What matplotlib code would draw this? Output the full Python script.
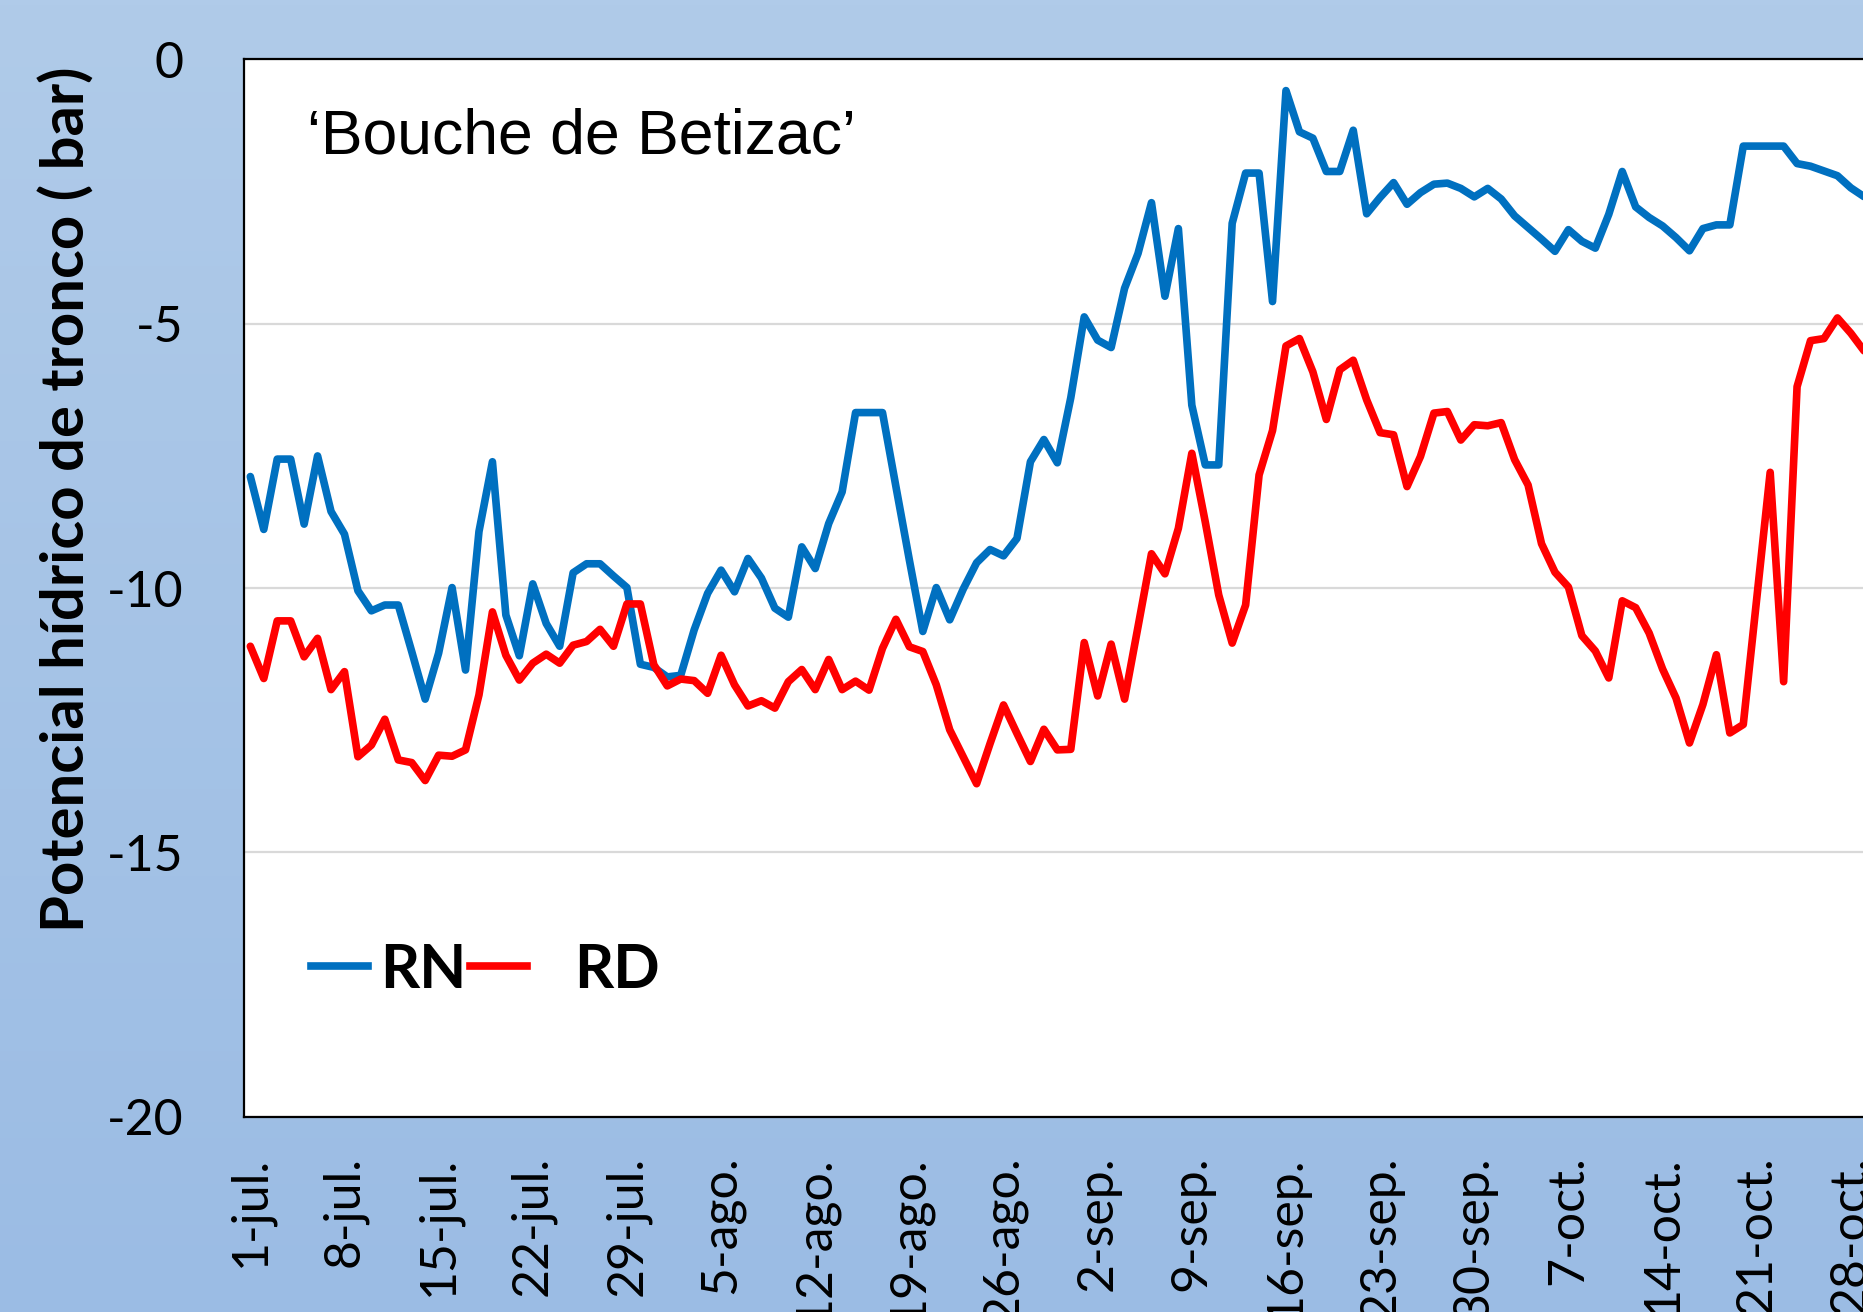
import numpy as np
import matplotlib
matplotlib.use("Agg")
import matplotlib.pyplot as plt
from matplotlib.lines import Line2D

plt.rcParams['axes.unicode_minus'] = False

# ---------------- data ----------------
series_names = ["RN", "RD"]
title_text = "\u2018Bouche de Betizac\u2019"
ylabel_text = "Potencial h\u00eddrico de tronco ( bar)"

rn = [-7.89, -8.89, -7.56, -7.56, -8.79, -7.50, -8.55, -8.98, -10.05, -10.43,
      -10.32, -10.32, -11.20, -12.10, -11.23, -9.99, -11.55, -8.93, -7.61, -10.51,
      -11.28, -9.92, -10.67, -11.10, -9.71, -9.54, -9.54, -9.77, -9.99, -11.44,
      -11.50, -11.68, -11.65, -10.79, -10.10, -9.66, -10.07, -9.44, -9.81, -10.38,
      -10.55, -9.22, -9.63, -8.78, -8.18, -6.68, -6.68, -6.68, -8.08, -9.47,
      -10.82, -9.99, -10.60, -10.02, -9.52, -9.27, -9.39, -9.06, -7.61, -7.19,
      -7.63, -6.40, -4.87, -5.31, -5.45, -4.33, -3.67, -2.71, -4.48, -3.20,
      -6.54, -7.67, -7.67, -3.10, -2.15, -2.15, -4.58, -0.59, -1.37, -1.49,
      -2.12, -2.12, -1.34, -2.92, -2.61, -2.33, -2.74, -2.52, -2.36, -2.34,
      -2.44, -2.60, -2.44, -2.64, -2.96, -3.18, -3.40, -3.63, -3.22, -3.44,
      -3.57, -2.93, -2.12, -2.79, -2.99, -3.15, -3.37, -3.62, -3.20, -3.13,
      -3.13, -1.64, -1.64, -1.64, -1.64, -1.97, -2.02, -2.11, -2.20, -2.43,
      -2.60]

rd = [-11.10, -11.71, -10.62, -10.62, -11.30, -10.95, -11.92, -11.58, -13.19, -12.97,
      -12.48, -13.25, -13.30, -13.64, -13.16, -13.18, -13.06, -12.02, -10.45, -11.27,
      -11.74, -11.42, -11.25, -11.42, -11.08, -11.01, -10.78, -11.10, -10.30, -10.30,
      -11.45, -11.85, -11.72, -11.75, -11.99, -11.27, -11.83, -12.23, -12.13, -12.27,
      -11.77, -11.54, -11.92, -11.35, -11.92, -11.76, -11.93, -11.14, -10.59, -11.11,
      -11.20, -11.83, -12.68, -13.19, -13.70, -12.94, -12.21, -12.75, -13.28, -12.67,
      -13.06, -13.05, -11.03, -12.04, -11.06, -12.10, -10.73, -9.35, -9.73, -8.87,
      -7.45, -8.75, -10.13, -11.04, -10.32, -7.86, -7.02, -5.42, -5.28, -5.91,
      -6.81, -5.87, -5.69, -6.44, -7.06, -7.10, -8.08, -7.51, -6.69, -6.66,
      -7.20, -6.91, -6.93, -6.87, -7.57, -8.05, -9.16, -9.70, -9.98, -10.90,
      -11.19, -11.70, -10.24, -10.37, -10.85, -11.53, -12.08, -12.93, -12.20, -11.26,
      -12.74, -12.58, -10.20, -7.81, -11.77, -6.19, -5.32, -5.28, -4.89, -5.18,
      -5.52]

tick_days = [0, 7, 14, 21, 28, 35, 42, 49, 56, 63, 70, 77, 84, 91, 98, 105, 112, 119]
tick_labels = ["1-jul.", "8-jul.", "15-jul.", "22-jul.", "29-jul.",
               "5-ago.", "12-ago.", "19-ago.", "26-ago.",
               "2-sep.", "9-sep.", "16-sep.", "23-sep.", "30-sep.",
               "7-oct.", "14-oct.", "21-oct.", "28-oct."]
ytick_vals = [0, -5, -10, -15, -20]
ytick_labels = ["0", "-5", "-10", "-15", "-20"]
n_days = 123  # 1-jul .. 31-oct

# ---------------- layout ----------------
W, H = 1863, 1312
fig = plt.figure(figsize=(W / 100, H / 100), dpi=100)

# gradient background
bg = fig.add_axes([0, 0, 1, 1], zorder=0)
top = np.array([176, 203, 233]) / 255.0
bot = np.array([155, 188, 228]) / 255.0
t = np.linspace(0, 1, 256)[:, None, None]
img = top * (1 - t) + bot * t
img = np.repeat(img, 2, axis=1)
bg.imshow(img, aspect='auto', extent=[0, 1, 0, 1], origin='upper')
bg.set_axis_off()

px_day = 13.45
ax_left = 243.6 / W
ax_top_px, ax_bot_px = 59.4, 1116.8
ax_h = (ax_bot_px - ax_top_px) / H
ax_w = n_days * px_day / W
ax = fig.add_axes([ax_left, 1 - ax_bot_px / H, ax_w, ax_h], zorder=1)
ax.set_facecolor('white')

blue = '#0070C0'
red = '#FF0000'
LW = 5.5
x = np.arange(len(rn))
ax.plot(x, rn, color=blue, lw=LW, solid_joinstyle='round', solid_capstyle='round', zorder=3)
ax.plot(np.arange(len(rd)), rd, color=red, lw=LW, solid_joinstyle='round',
        solid_capstyle='round', zorder=4)

ax.set_xlim(-0.5, n_days - 0.5)
ax.set_ylim(-20, 0)
ax.set_yticks(ytick_vals)
ax.set_yticklabels(ytick_labels)
ax.set_xticks(tick_days)
ax.set_xticklabels(tick_labels, rotation=90, va='top', ha='center')
ax.tick_params(axis='y', length=0, pad=43, labelsize=36)
ax.tick_params(axis='x', length=0, pad=28, labelsize=36)
for lab in ax.get_xticklabels() + ax.get_yticklabels():
    lab.set_family('Lato')
ax.yaxis.grid(True, color='#D9D9D9', lw=1.6)
ax.set_axisbelow(True)
for s in ax.spines.values():
    s.set_color('black')
    s.set_linewidth(1.6)

# title inside the plot
fig.text(307 / W, 1 - 154 / H, title_text, family='Liberation Sans', fontsize=45,
         ha='left', va='baseline', color='black', zorder=5)

# y label
fig.text(67 / W, 1 - 499 / H, ylabel_text, family='Lato', fontweight='bold', fontsize=43,
         rotation=90, ha='center', va='center', color='black')

# legend (manual)
ly = 1 - 966 / H
fig.add_artist(Line2D([311 / W, 368 / W], [ly, ly], color=blue, lw=LW,
                      transform=fig.transFigure, zorder=6))
fig.text(380 / W, 1 - 988 / H, series_names[0], family='Lato', fontweight='bold', fontsize=44,
         ha='left', va='baseline', zorder=6)
fig.add_artist(Line2D([470 / W, 527 / W], [ly, ly], color=red, lw=LW,
                      transform=fig.transFigure, zorder=6))
fig.text(574 / W, 1 - 988 / H, series_names[1], family='Lato', fontweight='bold', fontsize=44,
         ha='left', va='baseline', zorder=6)

fig.savefig('out.png', dpi=100)
